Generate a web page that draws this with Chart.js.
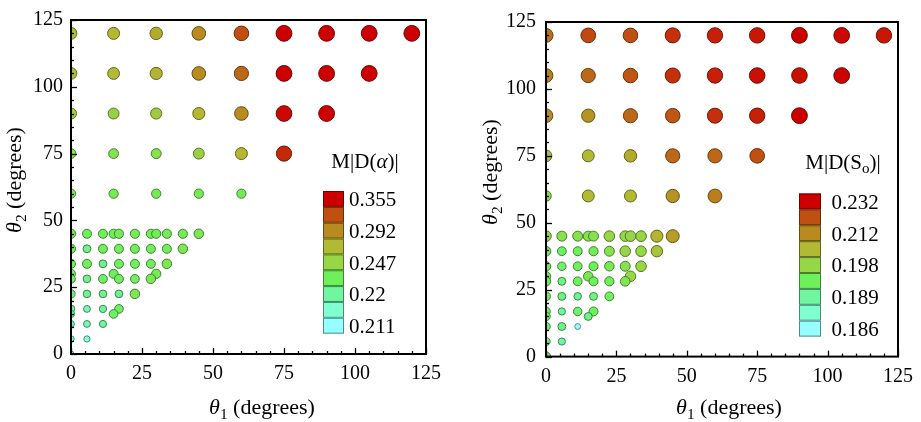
<!DOCTYPE html>
<html><head><meta charset="utf-8">
<script src="https://cdn.jsdelivr.net/npm/chart.js@4/dist/chart.umd.min.js"></script>
<style>
html,body{margin:0;padding:0;background:#fff;width:921px;height:422px;overflow:hidden}
#w1{position:absolute;left:0;top:0;width:460px;height:422px}
#w2{position:absolute;left:460px;top:0;width:461px;height:422px}
</style></head><body>
<div id="w1"><canvas id="c1" width="460" height="422"></canvas></div>
<div id="w2"><canvas id="c2" width="461" height="422"></canvas></div>
<script>
// ---- data: grid points (theta1, theta2) in degrees ----
const theta1 = [
  0,15,30,45,60,75,90,105,120,
  0,15,30,45,60,75,90,105,
  0,15,30,45,60,75,90,
  0,15,30,45,60,75,
  0,15,30,45,60,
  0,5.625,11.25,15,16.875,22.5,28.125,30,33.75,39.375,45,
  0,5.625,11.25,16.875,22.5,28.125,33.75,39.375,
  0,5.625,11.25,16.875,22.5,28.125,33.75,
  0,15,30,
  0,5.625,11.25,16.875,22.5,28.125,
  0,5.625,11.25,16.875,22.5,
  0,5.625,11.25,16.875,
  0,15,
  0,5.625,11.25,
  0,5.625,
  0
];
const theta2 = [
  120,120,120,120,120,120,120,120,120,
  105,105,105,105,105,105,105,105,
  90,90,90,90,90,90,90,
  75,75,75,75,75,75,
  60,60,60,60,60,
  45,45,45,45,45,45,45,45,45,45,45,
  39.375,39.375,39.375,39.375,39.375,39.375,39.375,39.375,
  33.75,33.75,33.75,33.75,33.75,33.75,33.75,
  30,30,30,
  28.125,28.125,28.125,28.125,28.125,28.125,
  22.5,22.5,22.5,22.5,22.5,
  16.875,16.875,16.875,16.875,
  15,15,
  11.25,11.25,11.25,
  5.625,5.625,
  0
];
// M|D(alpha)| per point
const valuesAlpha = [
  0.267,0.270,0.276,0.292,0.324,0.365,0.372,0.375,0.378,
  0.265,0.267,0.272,0.292,0.311,0.362,0.368,0.360,
  0.254,0.252,0.256,0.270,0.292,0.352,0.362,
  0.240,0.240,0.242,0.252,0.270,0.339,
  0.236,0.236,0.236,0.236,0.235,
  0.236,0.2335,0.2335,0.235,0.235,0.235,0.235,0.235,0.235,0.235,0.238,
  0.235,0.225,0.2335,0.2335,0.2335,0.2335,0.2335,0.238,
  0.2335,0.2335,0.225,0.2335,0.2335,0.2335,0.238,
  0.2335,0.2335,0.236,
  0.231,0.224,0.232,0.2335,0.232,0.238,
  0.228,0.223,0.224,0.224,0.238,
  0.223,0.218,0.221,0.231,
  0.220,0.231,
  0.218,0.218,0.220,
  0.2155,0.2145,
  0.213
];
// M|D(S_o)| per point
const valuesSo = [
  0.216,0.223,0.222,0.226,0.228,0.229,0.235,0.231,0.229,
  0.214,0.218,0.221,0.226,0.228,0.230,0.230,0.2315,
  0.212,0.2106,0.218,0.221,0.226,0.228,0.234,
  0.2036,0.205,0.2071,0.218,0.218,0.222,
  0.1976,0.205,0.205,0.2106,0.214,
  0.198,0.1962,0.1962,0.1962,0.1962,0.198,0.198,0.198,0.1987,0.2057,0.2092,
  0.1953,0.1931,0.1935,0.194,0.1962,0.198,0.198,0.2022,
  0.1949,0.1922,0.1931,0.1935,0.1949,0.1962,0.198,
  0.1949,0.1949,0.198,
  0.194,0.1908,0.1931,0.1935,0.194,0.1953,
  0.1931,0.1908,0.1899,0.1908,0.1931,
  0.1926,0.189,0.1922,0.1935,
  0.1922,0.1908,
  0.1922,0.1908,0.186,
  0.1917,0.189,
  0.1944
];
// colour-bar tick labels (top to bottom)
const legendAlpha = [0.355, 0.292, 0.247, 0.22, 0.211];
const legendSo = [0.232, 0.212, 0.198, 0.189, 0.186];
const axisMax = 125;
const axisStep = 25;

// ---- styling ----
const FONT = "'Liberation Serif', 'Times New Roman', serif";
const cmap = [[150,255,255],[128,255,208],[112,245,160],[110,240,90],[150,215,70],[178,185,50],[184,138,32],[192,80,18],[204,0,0]];
const radii = [3.4,3.7,4.1,5.0,5.8,6.5,7.3,7.8,8.4];

function valueToT(v, labels){
  const st = [[0,labels[4]],[2,labels[3]],[4,labels[2]],[6,labels[1]],[8,labels[0]]];
  if (v <= st[0][1]) return 0;
  if (v >= st[4][1]) return 8;
  for (let i=0;i<4;i++){
    const [t0,v0]=st[i],[t1,v1]=st[i+1];
    if (v>=v0 && v<=v1) return t0 + (t1-t0)*(v-v0)/(v1-v0);
  }
  return 8;
}
function lerpArr(arr, t){
  const i = Math.min(Math.floor(t), arr.length-2), f = t - i;
  if (Array.isArray(arr[0])) return arr[i].map((c,k)=>c + (arr[i+1][k]-c)*f);
  return arr[i] + (arr[i+1]-arr[i])*f;
}
const rgb = c => `rgb(${c.map(Math.round).join(',')})`;
const dark = c => c.map(x=>x*0.55);

function drawRich(ctx, parts, x, y, align){
  let w = 0;
  parts.forEach(p=>{ ctx.font = `${p[2]?'italic ':''}${p[1]}px ${FONT}`; w += ctx.measureText(p[0]).width; });
  let cx = align==='center' ? x - w/2 : x;
  parts.forEach(p=>{
    ctx.font = `${p[2]?'italic ':''}${p[1]}px ${FONT}`;
    ctx.fillText(p[0], cx, y + (p[3]||0));
    cx += ctx.measureText(p[0]).width;
  });
}

function makeChart(id, values, labels, cfg){
  const ts = values.map(v=>valueToT(v, labels));
  const frame = {
    id:'frame'+id,
    afterDatasetsDraw(chart){
      const {ctx, chartArea:a, scales:{x,y}} = chart;
      ctx.save();
      ctx.strokeStyle='#000';
      ctx.lineWidth=1.3;
      for (let v=0; v<=axisMax; v+=5){
        const L = v%axisStep===0 ? 6 : 3;
        const px = Math.round(x.getPixelForValue(v))+0.5;
        ctx.beginPath(); ctx.moveTo(px,a.bottom); ctx.lineTo(px,a.bottom-L); ctx.stroke();
        const py = Math.round(y.getPixelForValue(v))+0.5;
        ctx.beginPath(); ctx.moveTo(a.left,py); ctx.lineTo(a.left+L,py); ctx.stroke();
      }
      ctx.lineWidth=2;
      ctx.strokeRect(a.left, a.top, a.right-a.left, a.bottom-a.top);
      // colour bar legend
      const L = cfg.legend;
      for (let i=0;i<9;i++){
        const c = cmap[8-i];
        ctx.fillStyle = rgb(c);
        ctx.fillRect(L.x, L.y + i*L.h, L.w, L.h);
        ctx.strokeStyle = rgb(dark(c));
        ctx.lineWidth = 1;
        ctx.strokeRect(L.x+0.5, L.y + i*L.h+0.5, L.w-1, L.h-1);
      }
      ctx.fillStyle='#000';
      ctx.textBaseline='alphabetic';
      ctx.textAlign='left';
      labels.forEach((lab,k)=>{
        ctx.font = `${L.fs}px ${FONT}`;
        ctx.fillText(String(lab), L.lx, L.y + (2*k)*L.h + L.h/2 + L.fs*0.35);
      });
      drawRich(ctx, cfg.legendTitle, L.tx, L.ty, 'center');
      // axis titles
      const T = 22;
      drawRich(ctx, [['θ',T,true,0],['1',T*0.7,false,T*0.22],[' (degrees)',T,false,0]], cfg.xt[0], cfg.xt[1], 'center');
      ctx.save();
      ctx.translate(cfg.yt[0], cfg.yt[1]);
      ctx.rotate(-Math.PI/2);
      drawRich(ctx, [['θ',T,true,0],['2',T*0.7,false,T*0.22],[' (degrees)',T,false,0]], 0, 0, 'center');
      ctx.restore();
      ctx.restore();
    }
  };
  return new Chart(document.getElementById(id), {
    type:'scatter',
    data:{datasets:[{
      data: theta1.map((x,i)=>({x, y:theta2[i]})),
      backgroundColor: ts.map(t=>rgb(lerpArr(cmap,t))),
      borderColor: ts.map(t=>rgb(dark(lerpArr(cmap,t)))),
      pointRadius: ts.map(t=>lerpArr(radii,t)-0.5),
      pointHoverRadius: ts.map(t=>lerpArr(radii,t)-0.5),
      borderWidth:1,
      clip:0
    }]},
    options:{
      responsive:false, animation:false, devicePixelRatio:1,
      events:[],
      layout:{padding:cfg.pad},
      plugins:{legend:{display:false}, tooltip:{enabled:false}},
      scales:{
        x:{type:'linear', min:0, max:axisMax,
           ticks:{stepSize:axisStep, color:'#000', font:{family:FONT, size:20}, padding:cfg.xpad, maxRotation:0},
           grid:{display:false, drawTicks:false}, border:{display:false},
           afterFit(s){ s.height = cfg.xh; }},
        y:{type:'linear', min:0, max:axisMax,
           ticks:{stepSize:axisStep, color:'#000', font:{family:FONT, size:20}, padding:cfg.ypad},
           grid:{display:false, drawTicks:false}, border:{display:false},
           afterFit(s){ s.width = cfg.yw; }}
      }
    },
    plugins:[frame]
  });
}

makeChart('c1', valuesAlpha, legendAlpha, {
  pad:{top:18, right:34, left:0, bottom:0}, yw:71, xh:68, xpad:8, ypad:8,
  xt:[262,414], yt:[21,180],
  legend:{x:323, y:191, w:21, h:15.85, lx:349, fs:21, tx:365, ty:168},
  legendTitle:[['M|D(',21,false,0],['α',21,true,0],[')|',21,false,0]]
});
makeChart('c2', valuesSo, legendSo, {
  pad:{top:21.6, right:21, left:0, bottom:0}, yw:86, xh:65.4, xpad:8, ypad:10,
  xt:[269,414], yt:[37,172],
  legend:{x:339, y:193.5, w:22, h:15.9, lx:371.5, fs:21, tx:383, ty:169},
  legendTitle:[['M|D(S',21,false,0],['o',15,false,4],[')|',21,false,0]]
});
</script>
</body></html>
